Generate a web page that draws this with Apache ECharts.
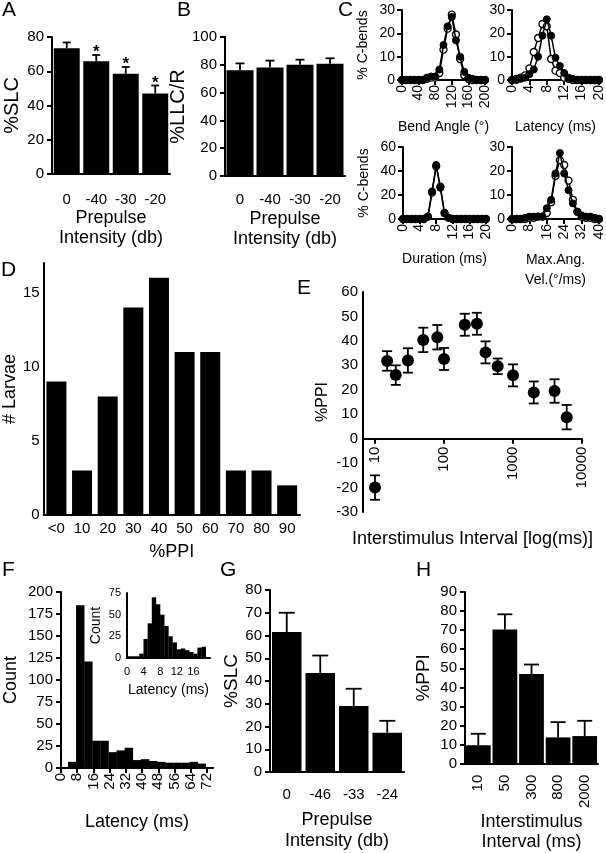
<!DOCTYPE html>
<html><head><meta charset="utf-8">
<script src="https://cdn.jsdelivr.net/npm/echarts@6/dist/echarts.min.js"></script>
<style>html,body{margin:0;padding:0;background:#fff}#c{width:606px;height:853px}</style>
</head><body><div id="c"></div><script>
// ---------- data ----------
const aCats = ['0', '-40', '-30', '-20'];
const aVals = [73.5, 65.8, 58.5, 47];
const aErr = [3.3, 3.7, 4, 4.7];
const aSig = [0, 1, 1, 1];

const bCats = ['0', '-40', '-30', '-20'];
const bVals = [76, 78, 80, 80.7];
const bErr = [5, 5, 3.7, 4];

const cAngleX = [0,10,20,30,40,50,60,70,80,90,100,110,120,130,140,150,160,170,180,190,200];
const cAngleFilled = [0,0,0,0,0,0,1,1.5,1.5,4.5,15,23,27,17,10,3.5,1,0.5,0,0,0];
const cAngleOpen = [0,0,0,0,0,0,0.5,1,1,3,13,22,28,19.5,9,2,0.5,0,0,0,0];

const cLatX = [0,1,2,3,4,5,6,7,8,9,10,11,12,13,14,15,16,17,18,19,20];
const cLatFilled = [0,0,0.5,1,2.5,4.5,10,19,26,19,9.5,6,3,1,0.5,0,0,0,0,0,0];
const cLatOpen = [0,0.5,1,2,5,12,18,24,23,9,4,3,1,0.5,0,0,0,0,0,0,0];

const cDurX = [0,1,2,3,4,5,6,7,8,9,10,11,12,13,14,15,16,17,18,19,20];
const cDurFilled = [0,0,0,0,0,0,2,23,45,26,5,1,0,0,0,0,0,0,0,0,0];
const cDurOpen = [0,0,0,0,0,0,2,22,44,27,5,1,0,0,0,0,0,0,0,0,0];

const cVelX = [0,2,4,6,8,10,12,14,16,18,20,22,24,26,28,30,32,34,36,38,40];
const cVelFilled = [0,0,0,0.5,1,1,1,1,4.5,8,19,27.5,19,12,6.5,3,1.5,1,1,0.5,0];
const cVelOpen = [0,0,0,0,0.5,0.5,1,1,2.5,7,18,24.5,22.5,16,8,3,1,0.5,0.5,0,0];

const dCats = ['<0', '10', '20', '30', '40', '50', '60', '70', '80', '90'];
const dVals = [9, 3, 8, 14, 16, 11, 11, 3, 3, 2];
const dTicks = [0, 5, 10, 15];

const eX = [10, 15, 20, 30, 50, 80, 100, 200, 300, 400, 600, 1000, 2000, 4000, 6000];
const eY = [-20, 31.8, 26, 32, 40.4, 41.5, 32.6, 46.6, 47, 35.3, 29.6, 25.9, 18.9, 19.5, 8.8];
const eErr = [5, 4, 4, 5, 5, 5, 4.5, 4.5, 4.5, 4.5, 3.2, 4.5, 4.5, 4.8, 5];
const eTicks = [10, 100, 1000, 10000];

const fBins = [1.5,5.5,9.5,13.5,17.5,21.5,25.5,29.5,33.5,37.5,41.5,45.5,49.5,53.5,57.5,61.5,65.5,69.5,73.5];
const fCounts = [1, 7, 185, 121, 31, 31, 18, 20, 23, 9, 10, 8, 7, 6, 6, 6, 7, 5, 1];
const fTicks = [0, 8, 16, 24, 32, 40, 48, 56, 64, 72];

const fInBins = [0.5,1.5,2.5,3.5,4.5,5.5,6.5,7.5,8.5,9.5,10.5,11.5,12.5,13.5,14.5,15.5,16.5,17.5,18.5];
const fInCounts = [2, 2, 2, 5, 22, 40, 70, 62, 50, 37, 25, 18, 10, 11, 9, 7, 5, 12, 13];
const fInTicks = [0, 4, 8, 12, 16];

const gCats = ['0', '-46', '-33', '-24'];
const gVals = [61.5, 43.5, 29, 17.3];
const gErr = [8.5, 7.7, 7.6, 5.2];

const hCats = ['10', '50', '300', '800', '2000'];
const hVals = [9.7, 70.3, 47, 13.8, 14.5];
const hErr = [6, 8, 5, 8, 8];

// ---------- helpers ----------
const ff = "'Liberation Sans', Arial, Helvetica, sans-serif";
function merge(a, b) {
  const o = Object.assign({}, a);
  for (const k in b) {
    if (b[k] && typeof b[k] === 'object' && !Array.isArray(b[k]) && a[k] && typeof a[k] === 'object') o[k] = merge(a[k], b[k]);
    else o[k] = b[k];
  }
  return o;
}
const AX = {
  nameLocation: 'middle',
  axisLine: {show: true, onZero: false, lineStyle: {color: '#000', width: 2}},
  axisTick: {show: true, length: 5, lineStyle: {color: '#000', width: 2}},
  axisLabel: {color: '#000', fontFamily: ff, fontSize: 15},
  splitLine: {show: false},
  nameTextStyle: {color: '#000', fontFamily: ff, fontSize: 18}
};
function ax(o) { return merge(AX, o); }

function errRender(capW, both) {
  return function (params, api) {
    const x = api.value(0), v = api.value(1), e = api.value(2), s = api.value(3);
    const p1 = api.coord([x, v + e]);
    const p0 = api.coord([x, both ? v - e : v]);
    const h = capW / 2, ls = {stroke: '#000', lineWidth: 1.8};
    const ch = [
      {type: 'line', shape: {x1: p1[0], y1: p1[1], x2: p0[0], y2: p0[1]}, style: ls},
      {type: 'line', shape: {x1: p1[0] - h, y1: p1[1], x2: p1[0] + h, y2: p1[1]}, style: ls}
    ];
    if (both) ch.push({type: 'line', shape: {x1: p0[0] - h, y1: p0[1], x2: p0[0] + h, y2: p0[1]}, style: ls});
    if (s) ch.push({type: 'text', style: {text: '*', x: p1[0], y: p1[1] + 6, align: 'center', verticalAlign: 'bottom', fontSize: 17, fontWeight: 'bold', fontFamily: ff, fill: '#000'}});
    return {type: 'group', children: ch};
  };
}
function zip(xs, ys) { return xs.map((x, i) => [x, ys[i]]); }

// ---------- grids ----------
const grids = [
  {left: 52, top: 37, width: 118, height: 137},   // 0 A
  {left: 225, top: 37, width: 120, height: 139},  // 1 B
  {left: 402, top: 10, width: 83, height: 70},    // 2 C TL
  {left: 512, top: 10, width: 88, height: 70},    // 3 C TR
  {left: 403, top: 147, width: 83, height: 72},   // 4 C BL
  {left: 512, top: 147, width: 88, height: 72},   // 5 C BR
  {left: 35, top: 263, width: 265, height: 252},  // 6 D
  {left: 363, top: 292, width: 219, height: 220}, // 7 E (data)
  {left: 61, top: 592, width: 152, height: 176},  // 8 F
  {left: 127, top: 593, width: 83, height: 65},   // 9 F inset
  {left: 270, top: 590, width: 134, height: 182}, // 10 G
  {left: 465, top: 592, width: 133, height: 180}, // 11 H
  {left: 363, top: 292, width: 219, height: 146.7} // 12 E (upper part, carries the x axis line at y = 0)
].map(g => Object.assign({containLabel: false}, g));

const cLab = {fontSize: 14, rotate: 90, margin: 5};
const cYLab = {fontSize: 14, margin: 7};
const cName = {fontSize: 14, lineHeight: 19};
const eMin = 6.7, eMax = 10000;

const xAxes = [
  ax({gridIndex: 0, type: 'category', data: aCats, axisTick: {show: false}, axisLabel: {margin: 18},
      name: 'Prepulse\nIntensity (db)', nameGap: 33, nameTextStyle: {lineHeight: 20}}),
  ax({gridIndex: 1, type: 'category', data: bCats, axisTick: {show: false}, axisLabel: {margin: 16},
      name: 'Prepulse\nIntensity (db)', nameGap: 33, nameTextStyle: {lineHeight: 20}}),
  ax({gridIndex: 2, type: 'value', min: 0, max: 200, interval: 40, axisLabel: cLab, name: 'Bend Angle (°)', nameGap: 38, nameTextStyle: cName}),
  ax({gridIndex: 3, type: 'value', min: 0, max: 20, interval: 4, axisLabel: cLab, name: 'Latency (ms)', nameGap: 38, nameTextStyle: cName}),
  ax({gridIndex: 4, type: 'value', min: 0, max: 20, interval: 4, axisLabel: cLab, name: 'Duration (ms)', nameGap: 31, nameTextStyle: cName}),
  ax({gridIndex: 5, type: 'value', min: 0, max: 40, interval: 8, axisLabel: cLab, name: 'Max.Ang.\nVel.(°/ms)', nameGap: 31, nameTextStyle: {fontSize: 14, lineHeight: 20}}),
  ax({gridIndex: 6, type: 'category', data: dCats, axisTick: {show: false}, axisLabel: {margin: 6}, name: '%PPI', nameGap: 28}),
  ax({gridIndex: 7, type: 'log', logBase: 10, min: eMin, max: eMax, show: false}),
  ax({gridIndex: 8, type: 'value', min: 0, max: 75,
      axisTick: {customValues: fTicks}, axisLabel: {customValues: fTicks, rotate: 90, margin: 5},
      name: 'Latency (ms)', nameGap: 45}),
  ax({gridIndex: 9, type: 'value', min: 0, max: 20, axisTick: {show: false},
      axisLabel: {customValues: fInTicks, fontSize: 11, margin: 8},
      name: 'Latency (ms)', nameGap: 25, nameTextStyle: {fontSize: 14}}),
  ax({gridIndex: 10, type: 'category', data: gCats, axisTick: {show: false}, axisLabel: {margin: 15},
      name: 'Prepulse\nIntensity (db)', nameGap: 38, nameTextStyle: {lineHeight: 21}}),
  ax({gridIndex: 11, type: 'category', data: hCats, axisTick: {show: false}, axisLabel: {rotate: 90, margin: 11},
      name: 'Interstimulus\nInterval (ms)', nameGap: 40, nameTextStyle: {lineHeight: 20}}),
  ax({gridIndex: 12, type: 'log', logBase: 10, min: eMin, max: eMax,
      axisTick: {length: 5}, axisLabel: {show: false},
      name: 'Interstimulus Interval [log(ms)]', nameGap: 91})
];

const yAxes = [
  ax({gridIndex: 0, type: 'value', min: 0, max: 80, interval: 20, axisLabel: {margin: 8}, name: '%SLC', nameGap: 30, nameTextStyle: {fontSize: 20}}),
  ax({gridIndex: 1, type: 'value', min: 0, max: 100, interval: 20, axisLabel: {margin: 8}, name: '%LLC/R', nameGap: 30, nameTextStyle: {fontSize: 20}}),
  ax({gridIndex: 2, type: 'value', min: 0, max: 30, interval: 10, axisLabel: cYLab, name: '% C-bends', nameGap: 29, nameTextStyle: cName}),
  ax({gridIndex: 3, type: 'value', min: 0, max: 30, interval: 10, axisLabel: cYLab}),
  ax({gridIndex: 4, type: 'value', min: 0, max: 60, interval: 20, axisLabel: cYLab, name: '% C-bends', nameGap: 29, nameTextStyle: cName}),
  ax({gridIndex: 5, type: 'value', min: 0, max: 30, interval: 10, axisLabel: cYLab}),
  ax({gridIndex: 6, type: 'value', min: 0, max: 17, axisTick: {show: false}, axisLabel: {customValues: dTicks, margin: 4}, name: '# Larvae', nameGap: 15}),
  ax({gridIndex: 7, type: 'value', min: -30, max: 60, interval: 10, axisTick: {show: false}, axisLabel: {margin: 5}, name: '%PPI', nameGap: 32, nameTextStyle: {fontSize: 16}}),
  ax({gridIndex: 8, type: 'value', min: 0, max: 200, interval: 25, axisLabel: {margin: 8}, name: 'Count', nameGap: 41}),
  ax({gridIndex: 9, type: 'value', min: 0, max: 75, interval: 25, axisTick: {show: false}, axisLabel: {fontSize: 11, margin: 6}, name: 'Count', nameGap: 24, nameTextStyle: {fontSize: 14}}),
  ax({gridIndex: 10, type: 'value', min: 0, max: 80, interval: 10, axisLabel: {margin: 8}, name: '%SLC', nameGap: 27, nameTextStyle: {fontSize: 19}}),
  ax({gridIndex: 11, type: 'value', min: 0, max: 90, interval: 10, axisLabel: {margin: 8}, name: '%PPI', nameGap: 32, nameTextStyle: {fontSize: 19}}),
  ax({gridIndex: 12, type: 'value', min: 0, max: 60, show: false})
];

function barS(i, data, gap) {
  return {type: 'bar', xAxisIndex: i, yAxisIndex: i, data: data, barCategoryGap: gap, itemStyle: {color: '#000'}, z: 2};
}
function errS(i, vals, errs, sig, cap, both) {
  return {type: 'custom', xAxisIndex: i, yAxisIndex: i, renderItem: errRender(cap, both), clip: false, z: 3,
    data: vals.map((v, k) => [k, v, errs[k], sig ? sig[k] : 0])};
}
function lineS(i, xs, ys, open) {
  return {type: 'line', xAxisIndex: i, yAxisIndex: i, data: zip(xs, ys), clip: false, symbol: 'circle', symbolSize: 7,
    showAllSymbol: true, lineStyle: {color: '#000', width: 1.5},
    itemStyle: open ? {color: '#fff', borderColor: '#000', borderWidth: 1.3} : {color: '#000', borderColor: '#000', borderWidth: 1},
    z: open ? 3 : 4};
}

const series = [
  barS(0, aVals, '12%'), errS(0, aVals, aErr, aSig, 8, false),
  barS(1, bVals, '10%'), errS(1, bVals, bErr, null, 9, false),
  lineS(2, cAngleX, cAngleOpen, true), lineS(2, cAngleX, cAngleFilled, false),
  lineS(3, cLatX, cLatOpen, true), lineS(3, cLatX, cLatFilled, false),
  lineS(4, cDurX, cDurOpen, true), lineS(4, cDurX, cDurFilled, false),
  lineS(5, cVelX, cVelOpen, true), lineS(5, cVelX, cVelFilled, false),
  barS(6, dVals, '22%'),
  {type: 'custom', xAxisIndex: 7, yAxisIndex: 7, renderItem: errRender(10, true), clip: false, z: 3,
    data: eX.map((x, k) => [x, eY[k], eErr[k], 0])},
  {type: 'scatter', xAxisIndex: 7, yAxisIndex: 7, data: zip(eX, eY), symbol: 'circle', symbolSize: 12, itemStyle: {color: '#000', opacity: 1}, z: 4, clip: false},
  {type: 'bar', xAxisIndex: 8, yAxisIndex: 8, data: zip(fBins, fCounts), barWidth: 8.4, itemStyle: {color: '#000'}},
  {type: 'bar', xAxisIndex: 9, yAxisIndex: 9, data: zip(fInBins, fInCounts), barWidth: 4.4, itemStyle: {color: '#000'}},
  barS(10, gVals, '12%'), errS(10, gVals, gErr, null, 16, false),
  barS(11, hVals, '7%'), errS(11, hVals, hErr, null, 15, false)
];

const letters = [['A', 2, 0], ['B', 177, 0], ['C', 338, 0], ['D', 1, 260], ['E', 297, 278], ['F', 2, 560], ['G', 220, 560], ['H', 416, 560]];
const graphic = letters.map(l => ({type: 'text', left: l[1], top: l[2], style: {text: l[0], fontSize: 21, fontFamily: ff, fill: '#000'}}));

const chart = echarts.init(document.getElementById('c'), null, {renderer: 'canvas'});
chart.setOption({
  animation: false,
  backgroundColor: '#fff',
  grid: grids,
  xAxis: xAxes,
  yAxis: yAxes,
  series: series,
  graphic: graphic
});

// rotated decade labels of panel E, positioned through the log axis scale
const eLabels = eTicks.map((t, k) => {
  const p = chart.convertToPixel({xAxisIndex: 7, yAxisIndex: 7}, [t, 0]);
  return {type: 'text', id: 'eLab' + k, x: p[0], y: p[1] + 8, rotation: Math.PI / 2, z: 10,
    style: {text: String(t), align: 'right', verticalAlign: 'middle', fontSize: 15, fontFamily: ff, fill: '#000'}};
});
chart.setOption({graphic: graphic.concat(eLabels)});
</script></body></html>
